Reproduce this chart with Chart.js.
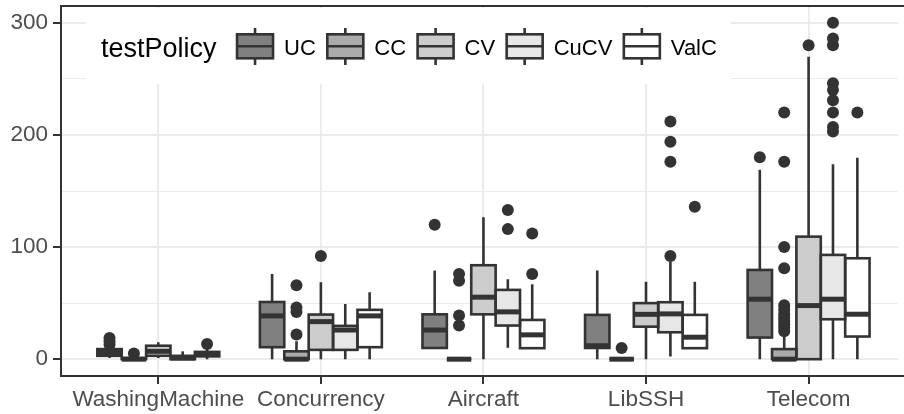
<!DOCTYPE html>
<html>
<head>
<meta charset="utf-8">
<title>testPolicy boxplots</title>
<script src="https://cdn.jsdelivr.net/npm/chart.js@4.4.1/dist/chart.umd.min.js"></script>
<style>
  html, body { margin: 0; padding: 0; background: #fff; }
  #wrap { position: relative; width: 904px; height: 414px; }
</style>
</head>
<body>
<div id="wrap"><canvas id="chart"></canvas></div>
<script>
(function () {
	'use strict';

	var CATEGORIES = ['WashingMachine', 'Concurrency', 'Aircraft', 'LibSSH', 'Telecom'];
	var POLICIES = ['UC', 'CC', 'CV', 'CuCV', 'ValC'];
	var Y_TICKS = [0, 50, 100, 150, 200, 250, 300];

	// Per category: [lower whisker, q1, median, q3, upper whisker].
	var UC_STATS = [[1, 3, 6, 9, 12], [0, 10.7, 38.6, 51, 76], [10, 10, 26, 40, 79], [0, 10, 12, 39.5, 79], [0, 19.3, 53.5, 79.6, 169]];
	var CC_STATS = [[0, 0, 0, 1, 2], [0, 0, 0, 7, 16], [0, 0, 0, 0, 0], [0, 0, 0, 0, 0], [0, 0, 0, 9, 22]];
	var CV_STATS = [[1, 3, 7, 12, 15], [0, 8.3, 33.5, 39.8, 68.6], [0, 40, 55.3, 83.8, 126.6], [0, 29, 40, 50, 69], [0, 0, 47.8, 109.3, 269.7]];
	var CUCV_STATS = [[0, 0, 1, 3, 7], [0, 8.3, 26, 29.7, 49.3], [10.3, 30, 42.2, 61.8, 71.3], [2.3, 24, 40.4, 50.8, 87], [0, 35.6, 53.5, 93, 173.8]];
	var VALC_STATS = [[0, 2.5, 4.5, 6.5, 10], [0, 10.7, 38.6, 44, 59.7], [9.8, 9.8, 21.7, 35, 66.8], [9.8, 9.8, 19.6, 39.5, 69], [0, 20.2, 40.1, 90, 179.7]];

	// Outlying points per category.
	var UC_OUT = [[13, 16, 19], [], [120], [], [180]];
	var CC_OUT = [[5], [22, 42, 46, 66], [30, 39, 70, 76], [10], [25, 28, 31, 34, 37, 40, 44, 48, 81, 100, 176, 220]];
	var CV_OUT = [[], [92], [], [], [280]];
	var CUCV_OUT = [[], [], [116, 133], [92, 176, 194, 212], [203, 207, 220, 231, 240, 246, 280, 286, 300]];
	var VALC_OUT = [[13.6], [], [76, 112], [136], [220]];

	var STATS = [UC_STATS, CC_STATS, CV_STATS, CUCV_STATS, VALC_STATS];
	var OUTLIERS = [UC_OUT, CC_OUT, CV_OUT, CUCV_OUT, VALC_OUT];

	// scale_fill_grey(start = 0.5, end = 1)
	var FILLS = ['#808080', '#ABABAB', '#CCCCCC', '#E7E7E7', '#FFFFFF'];
	var INK = '#333333';
	var GRID = '#EBEBEB';
	var TEXT = '#4D4D4D';
	var FONT = '"Liberation Sans", Arial, Helvetica, sans-serif';
	var DODGE = 0.75;

	var datasets = POLICIES.map(function (name, p) {
		return {
			type: 'bar',
			label: name,
			data: CATEGORIES.map(function (c, i) {
				return { x: i + 1, y: [STATS[p][i][1], STATS[p][i][3]] };
			}),
			backgroundColor: FILLS[p],
			borderWidth: 0,
			categoryPercentage: DODGE,
			barPercentage: 1,
			stats: STATS[p],
		};
	});

	var outlierPoints = [];
	POLICIES.forEach(function (name, p) {
		OUTLIERS[p].forEach(function (vals, i) {
			vals.forEach(function (v) {
				outlierPoints.push({
					x: i + 1 + (p - (POLICIES.length - 1) / 2) * DODGE / POLICIES.length,
					y: v,
				});
			});
		});
	});

	datasets.push({
		type: 'scatter',
		label: 'outliers',
		data: outlierPoints,
		pointRadius: 6,
		pointHoverRadius: 6,
		pointBackgroundColor: INK,
		pointBorderWidth: 0,
	});

	// Whiskers, box outlines and medians, placed on the bars the library laid out.
	var boxplotPlugin = {
		id: 'boxplot',
		afterDatasetsDraw: function (chart) {
			var ctx = chart.ctx;
			var y = chart.scales.y;
			ctx.save();
			ctx.strokeStyle = INK;
			ctx.lineCap = 'butt';
			chart.data.datasets.forEach(function (ds, d) {
				if (!ds.stats) {
					return;
				}
				chart.getDatasetMeta(d).data.forEach(function (bar, i) {
					var s = ds.stats[i];
					var half = bar.width / 2;
					var lo = y.getPixelForValue(s[0]);
					var q1 = y.getPixelForValue(s[1]);
					var med = y.getPixelForValue(s[2]);
					var q3 = y.getPixelForValue(s[3]);
					var hi = y.getPixelForValue(s[4]);

					ctx.lineWidth = 2.6;
					ctx.beginPath();
					ctx.moveTo(bar.x, q3);
					ctx.lineTo(bar.x, hi);
					ctx.moveTo(bar.x, q1);
					ctx.lineTo(bar.x, lo);
					ctx.stroke();
					ctx.strokeRect(bar.x - half, q3, bar.width, q1 - q3);

					ctx.lineWidth = 5;
					ctx.beginPath();
					ctx.moveTo(bar.x - half, med);
					ctx.lineTo(bar.x + half, med);
					ctx.stroke();
				});
			});
			ctx.restore();
		},
	};

	// ggplot-style legend inside the panel, plus the panel border.
	var legendPlugin = {
		id: 'ggLegend',
		afterDraw: function (chart) {
			var ctx = chart.ctx;
			var area = chart.chartArea;
			var top = 8, bottom = 84, mid = 46.3;
			var left = 86, pad = 15;

			ctx.save();
			ctx.font = '22px ' + FONT;
			var widths = POLICIES.map(function (p) { return ctx.measureText(p).width; });
			ctx.font = '27px ' + FONT;
			var titleW = ctx.measureText('testPolicy').width;

			var x = left + pad + titleW + 20.5;
			var items = [];
			POLICIES.forEach(function (p, i) {
				items.push({ x: x, textX: x + 47 });
				x = x + 47 + widths[i] + 11.5;
			});
			var right = items[items.length - 1].textX + widths[widths.length - 1] + 14;

			ctx.fillStyle = '#FFFFFF';
			ctx.fillRect(left, top, right - left, bottom - top);

			ctx.fillStyle = '#000000';
			ctx.textBaseline = 'alphabetic';
			ctx.textAlign = 'left';
			ctx.fillText('testPolicy', left + pad, 57);

			ctx.font = '22px ' + FONT;
			ctx.strokeStyle = INK;
			ctx.lineWidth = 2.6;
			items.forEach(function (it, i) {
				var cx = it.x + 18;
				ctx.beginPath();
				ctx.moveTo(cx, 28);
				ctx.lineTo(cx, 65);
				ctx.stroke();
				ctx.fillStyle = FILLS[i];
				ctx.fillRect(it.x, 34.3, 36, 24);
				ctx.strokeRect(it.x, 34.3, 36, 24);
				ctx.beginPath();
				ctx.moveTo(it.x, mid);
				ctx.lineTo(it.x + 36, mid);
				ctx.stroke();
				ctx.fillStyle = '#000000';
				ctx.fillText(POLICIES[i], it.textX, 54.5);
			});

			ctx.strokeStyle = INK;
			ctx.lineWidth = 2;
			ctx.strokeRect(area.left, area.top, area.right - area.left + 10, area.bottom - area.top);
			ctx.restore();
		},
	};

	new Chart(document.getElementById('chart'), {
		type: 'bar',
		data: { datasets: datasets },
		plugins: [boxplotPlugin, legendPlugin],
		options: {
			responsive: true,
			maintainAspectRatio: false,
			animation: false,
			events: [],
			layout: { padding: { top: 6, left: 0, right: 0, bottom: 0 } },
			plugins: {
				legend: { display: false },
				tooltip: { enabled: false },
			},
			scales: {
				x: {
					type: 'linear',
					min: 0.4015,
					max: 5.55,
					offset: false,
					afterBuildTicks: function (scale) {
						scale.ticks = CATEGORIES.map(function (c, i) { return { value: i + 1 }; });
					},
					afterFit: function (scale) {
						scale.height = 38;
						scale.paddingLeft = 0;
						scale.paddingRight = 0;
					},
					ticks: {
						autoSkip: false,
						maxRotation: 0,
						padding: 2,
						color: TEXT,
						font: { family: FONT, size: 22.5 },
						callback: function (v) { return CATEGORIES[Math.round(v) - 1]; },
					},
					grid: {
						offset: false,
						color: GRID,
						lineWidth: 2,
						tickColor: INK,
						tickWidth: 2,
						tickLength: 8,
					},
					border: { display: false },
				},
				y: {
					min: -15,
					max: 315,
					afterBuildTicks: function (scale) {
						scale.ticks = Y_TICKS.map(function (v) { return { value: v }; });
					},
					afterFit: function (scale) {
						scale.width = 61;
						scale.paddingTop = 0;
						scale.paddingBottom = 0;
					},
					ticks: {
						autoSkip: false,
						padding: 5,
						color: TEXT,
						font: { family: FONT, size: 22.5 },
						callback: function (v) { return v % 100 === 0 ? String(v) : ''; },
					},
					grid: {
						color: GRID,
						lineWidth: function (c) { return c.tick && c.tick.value % 100 === 0 ? 2 : 1; },
						tickColor: function (c) { return c.tick && c.tick.value % 100 === 0 ? INK : 'rgba(0,0,0,0)'; },
						tickWidth: 2,
						tickLength: 8,
					},
					border: { display: false },
				},
			},
		},
	});
}());
</script>
</body>
</html>
